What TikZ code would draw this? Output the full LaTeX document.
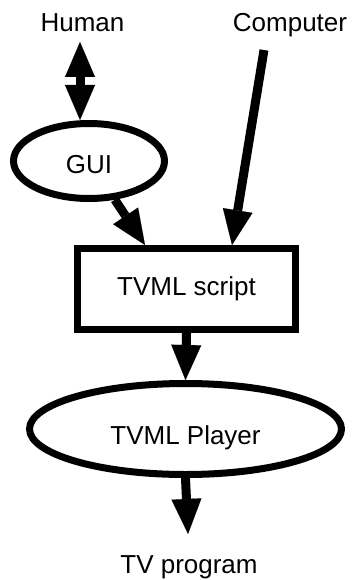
\documentclass[tikz,border=0pt]{standalone}
\usepackage{fontspec}
\setmainfont{Liberation Sans}
\usetikzlibrary{arrows.meta,shapes.geometric}
\begin{document}
\begin{tikzpicture}[x=1pt,y=-1pt,
  lbl/.style={font=\fontsize{26}{30}\selectfont, inner sep=0pt},
  oval/.style={ellipse, draw, line width=7pt, inner sep=0pt, font=\fontsize{26}{30}\selectfont},
  boxnode/.style={rectangle, draw, line width=7pt, inner sep=0pt, font=\fontsize{26}{30}\selectfont},
  bigarrow/.style={line width=9pt, -{Triangle[length=35pt,width=30pt,line width=0.1pt]}}]
\useasboundingbox (0,0) rectangle (354,580);
% labels
\node[lbl, anchor=base] (human) at (82.5,32) {Human};
\node[lbl, anchor=base] (computer) at (290,32) {Computer};
\node[lbl, anchor=base] (tv) at (189,573) {TV program};
% shapes
\node[oval, minimum width=151pt, minimum height=75pt, text height=24pt, text depth=0pt] (gui) at (89,161) {GUI};
\node[boxnode, minimum width=218pt, minimum height=81pt] (script) at (186.5,289) {TVML script};
\node[oval, minimum width=312pt, minimum height=91pt, text height=30pt, text depth=0pt] (player) at (185.5,429) {TVML Player};
% helper coordinates
\coordinate (hmid) at (80,81.5);
\coordinate (htip) at (80,42);
\coordinate (ctop) at (264,50);
% connectors
\draw[bigarrow] (hmid) -- (htip);
\draw[bigarrow] (hmid) -- (gui.north -| hmid);
\draw[bigarrow] (ctop) -- ([xshift=45.5pt]script.north);
\draw[bigarrow] (gui) -- ([xshift=-41.5pt]script.north);
\draw[bigarrow] (script.south) -- (player.north);
\draw[bigarrow, shorten >=21pt] (player.south) -- (tv.north);
\end{tikzpicture}
\end{document}
